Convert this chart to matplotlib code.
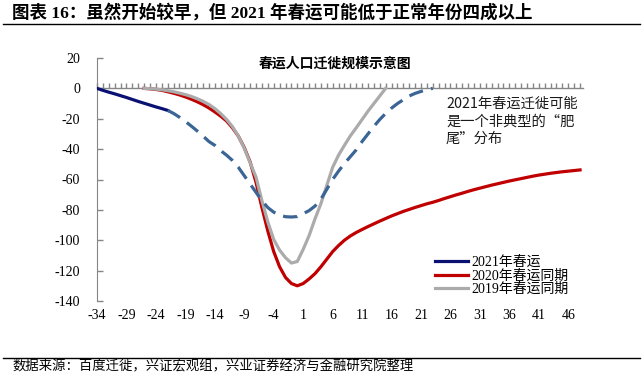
import numpy as np
import matplotlib
matplotlib.use("Agg")
from matplotlib import pyplot as plt
from matplotlib.ticker import MultipleLocator

# days relative to Spring Festival
days_2021 = np.arange(-34, -21)
v_2021 = [0, -1.3, -2.5, -3.6, -4.8, -6.0, -7.3, -8.6, -9.8, -11.0, -12.2, -13.3, -14.5]

days_fcst = np.arange(-22, 24)
v_fcst = [-14.5, -16.5, -19, -21.8, -24.8, -28, -31.4, -35, -37.5, -41, -44, -47.5,
          -52, -57.5, -63, -68.5, -74, -78.5, -81.5, -83.5, -84.5, -84.7, -84.4,
          -82.5, -80.5, -77.5, -73, -66.5, -60, -54.5, -49.5, -45, -40.5, -35,
          -30, -25, -20.5, -16.5, -13, -10, -7.5, -5, -3.3, -2, -0.8, 0]

days_2020 = np.arange(-26, 49)
v_2020 = [0, -0.3, -0.7, -1.3, -2.2, -3.2, -4.3, -5.6, -7.1, -8.8, -10.7, -12.9,
          -15.5, -18.3, -21.5, -26, -31.5, -39, -48.5, -62, -78.5, -94, -107.5,
          -117.5, -124.5, -128.5, -130, -128.5, -125.5, -122, -117.5, -112.5,
          -107.5, -103.5, -100, -97.2, -94.9, -92.9, -91, -89.2, -87.4, -85.7,
          -84, -82.5, -81, -79.7, -78.4, -77.2, -76, -75, -73.8, -72.5, -71.3,
          -70.1, -69, -67.8, -66.7, -65.7, -64.7, -63.7, -62.8, -61.9, -61,
          -60.2, -59.4, -58.6, -57.8, -57.1, -56.5, -55.9, -55.4, -54.9, -54.5,
          -54.1, -53.7]

days_2019 = np.arange(-26, 16)
v_2019 = [0, -0.2, -0.5, -0.9, -1.5, -2.2, -3.1, -4.1, -5.3, -6.8, -8.5, -10.6,
          -13.3, -16.6, -20.5, -25.2, -31.5, -39.5, -49, -58.5, -74, -88, -99.5,
          -106.5, -111.5, -115, -114, -106, -97, -86, -76, -64, -52, -44,
          -37.5, -31.3, -26, -20.5, -15, -10, -5, 0]

x_ticks = np.arange(-34, 47, 5)
y_ticks = np.arange(-140, 21, 20)

labels = ["2021年春运", "2020年春运同期", "2019年春运同期"]
note = "2021年春运迁徙可能\n是一个非典型的“肥\n尾”分布"

serif = ["Liberation Serif", "Noto Sans CJK SC"]
sans = ["Noto Sans CJK SC", "DejaVu Sans"]

fig = plt.figure(figsize=(6.43, 3.74), dpi=100)
ax = fig.add_axes([97/643, 1-301/374, (583-97)/643, (301-58)/374])

ax.plot(days_2021, v_2021, color="#0A1172", lw=2.3, label=labels[0], zorder=4)
ax.plot(days_2020, v_2020, color="#C00000", lw=2.3, label=labels[1], zorder=3)
ax.plot(days_2019, v_2019, color="#ABABAB", lw=2.3, label=labels[2], zorder=3)
ax.plot(days_fcst, v_fcst, color="#3B6595", lw=2.3, ls=(0, (4.5, 2.6)), zorder=5)

ax.set_xlim(-34, 48.5)
ax.set_ylim(-140, 20)

for s in ["top", "right"]:
    ax.spines[s].set_visible(False)
ax.spines["left"].set_color("#868686")
# category axis crosses at zero, labels stay at the bottom
ax.spines["bottom"].set_position(("data", 0))
ax.spines["bottom"].set_color("#868686")
ax.spines["bottom"].set_linewidth(1.0)

ax.set_xticks(x_ticks)
ax.set_xticklabels([str(t) for t in x_ticks], family=serif, fontsize=10)
ax.xaxis.set_minor_locator(MultipleLocator(1))
label_pad = (301 - 88.5 + 8) / 100 * 72
ax.tick_params(axis="x", which="both", direction="in", length=3.5, width=1.0,
               color="#868686", pad=label_pad)
ax.set_yticks(y_ticks)
ax.set_yticklabels([str(t) for t in y_ticks], family=serif, fontsize=10)
ax.tick_params(axis="y", direction="in", length=4, width=1.0, color="#868686", pad=12)

ax.text(0.49, 1.0 + 1/243, "春运人口迁徙规模示意图", transform=ax.transAxes,
        ha="center", va="top", fontsize=10, fontweight="bold", family=sans)
fig.text(446/643, 1-97/374, note, fontsize=10.3, family=sans,
         va="top", ha="left", linespacing=1.3, color="#1a1a1a")

leg = ax.legend(loc="upper left", bbox_to_anchor=(428/643, 1-249/374),
                bbox_transform=fig.transFigure, frameon=False,
                prop={"family": serif, "size": 10}, handlelength=2.4,
                handletextpad=0.2, labelspacing=0.0, borderpad=0)

# header and footer
fig.text(12/643, 1-13/374, "图表 16：虽然开始较早，但 2021 年春运可能低于正常年份四成以上",
         family=serif, fontweight="bold", fontsize=12.6, va="center", ha="left")
fig.add_artist(plt.Line2D([3/643, 640/643], [1-24/374, 1-24/374], color="black", lw=1))
fig.add_artist(plt.Line2D([3/643, 640/643], [1-358/374, 1-358/374], color="black", lw=1))
fig.text(13/643, 1-366/374, "数据来源：百度迁徙，兴证宏观组，兴业证券经济与金融研究院整理",
         family=sans, fontsize=9.6, va="center", ha="left")

fig.savefig("out.png", dpi=100)
